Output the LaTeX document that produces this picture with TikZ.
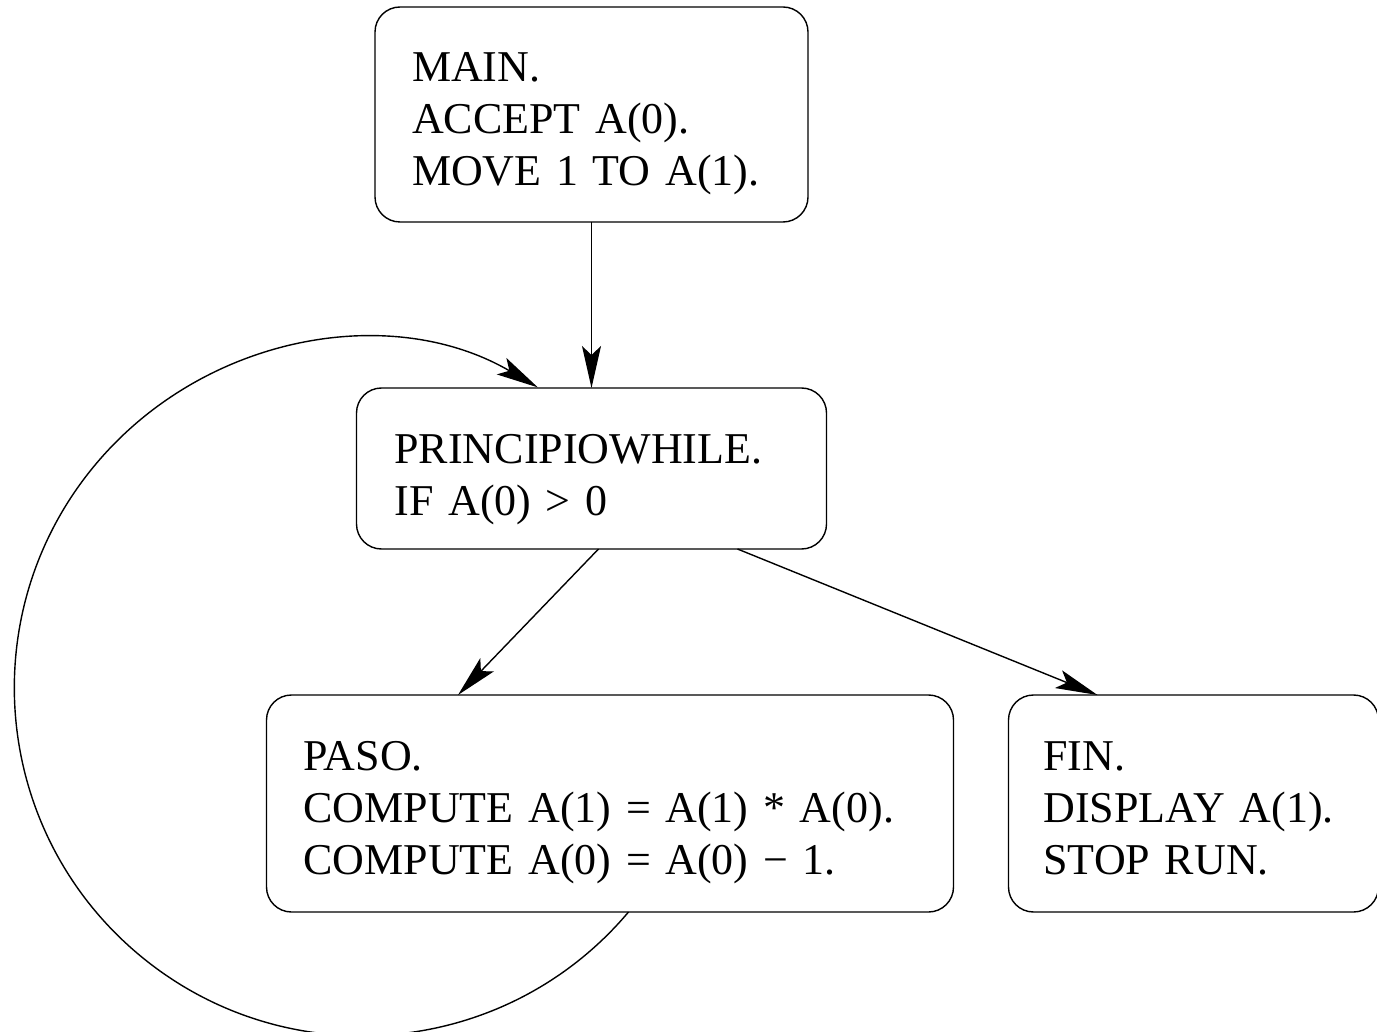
\documentclass[tikz,border=0pt]{standalone}
\usepackage{fontspec}
\setmainfont{Liberation Serif}
\usetikzlibrary{arrows.meta,positioning}

\begin{document}
\begin{tikzpicture}[
  x=1pt, y=-1pt,
  node distance=166pt and 55pt,
  every node/.style={font=\fontsize{44}{52}\selectfont, align=left},
  box/.style={draw, rounded corners=25pt, line width=1.4pt, inner xsep=37pt,
              inner ysep=0pt, outer sep=0pt, text height=75pt},
  arr/.style={-{Stealth[length=42pt, width=19pt, inset=9pt]}, line width=1.4pt}
]
  \useasboundingbox (0,0) rectangle (1377,1032);

  \node[box, text width=359pt, text depth=140pt] (main) at (591.5,114.5)
        {MAIN.\\ACCEPT A(0).\\MOVE 1 TO A(1).};
  \node[box, text width=394pt, inner xsep=38pt, text depth=86pt, below=of main] (principio)
        {PRINCIPIOWHILE.\\IF A(0) > 0};
  \node[box, text width=613pt, text depth=142pt, below=146pt of principio,
        xshift=18.5pt] (paso)
        {PASO.\\COMPUTE A(1) = A(1) * A(0).\\COMPUTE A(0) = A(0) − 1.};
  \node[box, text width=300pt, inner xsep=35pt, text depth=142pt, right=of paso] (fin)
        {FIN.\\DISPLAY A(1).\\STOP RUN.};

  \draw[arr] (main) -- (principio);
  \draw[arr] ([xshift=7pt]principio.south) -- ([xshift=-152pt]paso.north);
  \draw[arr] ([xshift=146pt]principio.south) -- ([xshift=-96pt]fin.north);
  % loop back round the left side
  \draw[arr] ([xshift=18.5pt]paso.south) arc[start angle=40.1, end angle=300.3, radius=348];
\end{tikzpicture}
\end{document}
